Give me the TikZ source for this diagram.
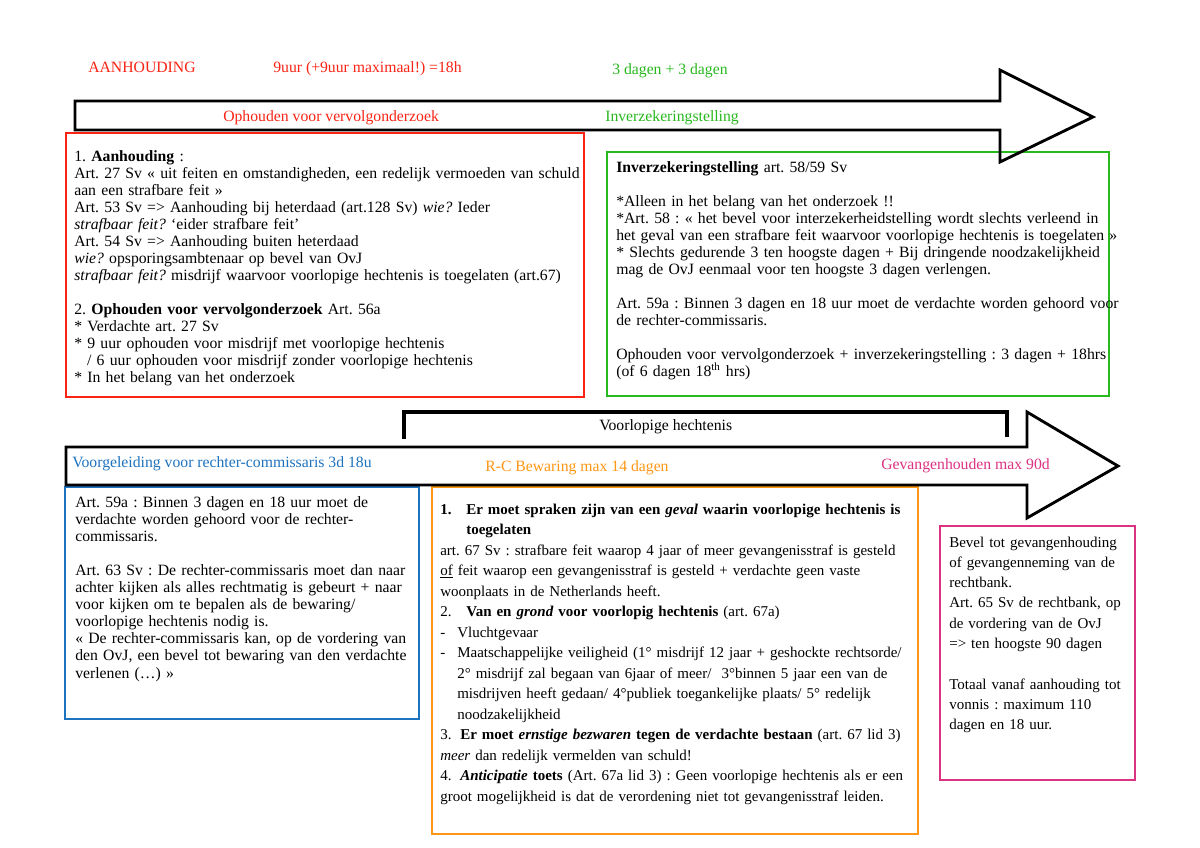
\documentclass[tikz,border=0pt]{standalone}
\usepackage{fontspec}
\setmainfont{Liberation Serif}
\definecolor{cred}{RGB}{250,35,20}
\definecolor{cgreen}{RGB}{40,185,30}
\definecolor{cblue}{RGB}{30,115,190}
\definecolor{corange}{RGB}{255,150,20}
\definecolor{cpink}{RGB}{220,50,130}
\begin{document}
\frenchspacing
\begin{tikzpicture}[x=0.7pt,y=-0.7pt,
  lbl/.style={anchor=base west, inner sep=0pt, font=\fontsize{11}{12}\selectfont},
  txt/.style={anchor=base west, inner sep=0pt, align=left, text width=#1},
  arrowshape/.style={draw=black, line width=2pt, line join=miter},
  frame/.style={line width=1.5pt},
  bracket/.style={line width=2.8pt, line join=miter}]
\useasboundingbox[fill=white] (0,0) rectangle (1200,848);

% header labels
\node[lbl, text=cred] (aanh) at (88,72) {AANHOUDING};
\node[lbl, text=cred] (nineuur) at (273,72) {9uur (+9uur maximaal!) =18h};
\node[lbl, text=cgreen] (drie) at (612,74) {3 dagen + 3 dagen};

% boxes
\draw[frame, cred] (66,133) rectangle (584,397);
\draw[frame, cgreen] (607,152) rectangle (1109,396);
\draw[frame, cblue] (65,487) rectangle (419,719);
\draw[frame, corange] (432,487) rectangle (918,834);
\draw[frame, cpink] (940,526) rectangle (1135,780);

% top arrow
\draw[arrowshape] (75,101) -- (1000,101) -- (1000,70) -- (1093,117) -- (1000,162) -- (1000,130) -- (75,130) -- cycle;
\node[lbl, text=cred] (oph) at (223,121) {Ophouden voor vervolgonderzoek};
\node[lbl, text=cgreen] (inv) at (605,121) {Inverzekeringstelling};

% bracket
\draw[bracket] (404,439) -- (404,412) -- (1007,412) -- (1007,437);
\node[lbl] (vh) at (599,430) {Voorlopige hechtenis};

% bottom arrow
\draw[arrowshape] (66,447) -- (1027,447) -- (1027,412) -- (1118,466) -- (1027,518) -- (1027,485) -- (66,485) -- cycle;
\node[lbl, text=cblue] (voorg) at (72,467) {Voorgeleiding voor rechter-commissaris 3d 18u};
\node[lbl, text=corange] (bew) at (485,471) {R-C Bewaring max 14 dagen};
\node[lbl, text=cpink] (gev) at (881,469) {Gevangenhouden max 90d};

% red box text
\node[txt=420pt, font=\fontsize{11}{11.9}\selectfont] (redtxt) at (74,161) {%
1. \textbf{Aanhouding} :\\
Art. 27 Sv « uit feiten en omstandigheden, een redelijk vermoeden van schuld\\
aan een strafbare feit »\\
Art. 53 Sv => Aanhouding bij heterdaad (art.128 Sv) \textit{wie?} Ieder\\
\textit{strafbaar feit?} ‘eider strafbare feit’\\
Art. 54 Sv => Aanhouding buiten heterdaad\\
\textit{wie?} opsporingsambtenaar op bevel van OvJ\\
\textit{strafbaar feit?} misdrijf waarvoor voorlopige hechtenis is toegelaten (art.67)\\
\mbox{}\\
2. \textbf{Ophouden voor vervolgonderzoek} Art. 56a\\
{*} Verdachte art. 27 Sv\\
{*} 9 uur ophouden voor misdrijf met voorlopige hechtenis\\
\hspace*{9pt}/ 6 uur ophouden voor misdrijf zonder voorlopige hechtenis\\
{*} In het belang van het onderzoek};

% green box text
\node[txt=400pt, font=\fontsize{11}{11.9}\selectfont] (greentxt) at (616,172) {%
\textbf{Inverzekeringstelling} art. 58/59 Sv\\
\mbox{}\\
{*}Alleen in het belang van het onderzoek !!\\
{*}Art. 58 : « het bevel voor interzekerheidstelling wordt slechts verleend in\\
het geval van een strafbare feit waarvoor voorlopige hechtenis is toegelaten »\\
{*} Slechts gedurende 3 ten hoogste dagen + Bij dringende noodzakelijkheid\\
mag de OvJ eenmaal voor ten hoogste 3 dagen verlengen.\\
\mbox{}\\
Art. 59a : Binnen 3 dagen en 18 uur moet de verdachte worden gehoord voor\\
de rechter-commissaris.\\
\mbox{}\\
Ophouden voor vervolgonderzoek + inverzekeringstelling : 3 dagen + 18hrs\\
(of 6 dagen 18\textsuperscript{th} hrs)};

% blue box text
\node[txt=300pt, font=\fontsize{11}{11.97}\selectfont] (bluetxt) at (75,507) {%
Art. 59a : Binnen 3 dagen en 18 uur moet de\\
verdachte worden gehoord voor de rechter-\\
commissaris.\\
\mbox{}\\
Art. 63 Sv : De rechter-commissaris moet dan naar\\
achter kijken als alles rechtmatig is gebeurt + naar\\
voor kijken om te bepalen als de bewaring/\\
voorlopige hechtenis nodig is.\\
« De rechter-commissaris kan, op de vordering van\\
den OvJ, een bevel tot bewaring van den verdachte\\
verlenen (…) »};

% orange box text
\node[txt=380pt, font=\fontsize{10.5}{14.35}\selectfont] (orangetxt) at (440,514) {%
\makebox[18.2pt][l]{\textbf{1.}}\textbf{Er moet spraken zijn van een \textit{geval} waarin voorlopige hechtenis is}\\
\hspace*{18.2pt}\textbf{toegelaten}\\
art. 67 Sv : strafbare feit waarop 4 jaar of meer gevangenisstraf is gesteld\\
\underline{of} feit waarop een gevangenisstraf is gesteld + verdachte geen vaste\\
woonplaats in de Netherlands heeft.\\
\makebox[18.2pt][l]{2.}\textbf{Van en \textit{grond} voor voorlopig hechtenis} (art. 67a)\\
\makebox[11.9pt][l]{-}Vluchtgevaar\\
\makebox[11.9pt][l]{-}Maatschappelijke veiligheid (1° misdrijf 12 jaar + geshockte rechtsorde/\\
\hspace*{11.9pt}2° misdrijf zal begaan van 6jaar of meer/\ \ 3°binnen 5 jaar een van de\\
\hspace*{11.9pt}misdrijven heeft gedaan/ 4°publiek toegankelijke plaats/ 5° redelijk\\
\hspace*{11.9pt}noodzakelijkheid\\
\makebox[14pt][l]{3.}\textbf{Er moet \textit{ernstige bezwaren} tegen de verdachte bestaan} (art. 67 lid 3)\\
\textit{meer} dan redelijk vermelden van schuld!\\
\makebox[14pt][l]{4.}\textbf{\textit{Anticipatie} toets} (Art. 67a lid 3) : Geen voorlopige hechtenis als er een\\
groot mogelijkheid is dat de verordening niet tot gevangenisstraf leiden.};

% pink box text
\node[txt=200pt, font=\fontsize{10.5}{14.2}\selectfont] (pinktxt) at (949,547) {%
Bevel tot gevangenhouding\\
of gevangenneming van de\\
rechtbank.\\
Art. 65 Sv de rechtbank, op\\
de vordering van de OvJ\\
=> ten hoogste 90 dagen\\
\mbox{}\\
Totaal vanaf aanhouding tot\\
vonnis : maximum 110\\
dagen en 18 uur.};
\end{tikzpicture}
\end{document}
